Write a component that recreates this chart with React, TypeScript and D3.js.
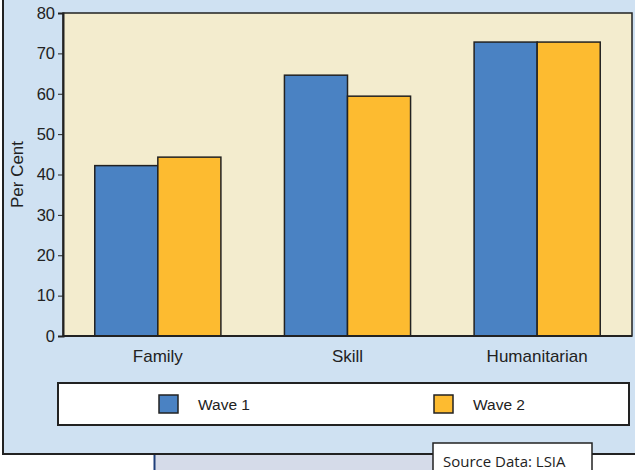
import React, { useEffect, useRef } from 'react';
import * as d3 from 'd3';

// Datos del gráfico
const categories = ['Family', 'Skill', 'Humanitarian'];
const seriesNames = ['Wave 1', 'Wave 2'];
const wave1 = [42.2, 64.6, 72.8];
const wave2 = [44.3, 59.4, 72.8];
const yTicks = [0, 10, 20, 30, 40, 50, 60, 70, 80];

const W = 635;
const H = 470;
const plot = { left: 63, top: 13, right: 632, bottom: 336 };
const colors = ['#4a82c3', '#fdbb30'];

const App = () => {
    const svgRef = useRef<SVGSVGElement | null>(null);

    useEffect(() => {
        const svg = d3.select(svgRef.current);
        svg.selectAll('*').remove();
        const font = '"Liberation Sans", Arial, sans-serif';

        // Fondo inferior y panel azul
        svg.append('rect').attr('x', 0).attr('y', 0).attr('width', W).attr('height', H).attr('fill', '#fff');
        svg.append('rect').attr('x', 155).attr('y', 454).attr('width', 278).attr('height', 20).attr('fill', '#d5dbe9');
        svg.append('line').attr('x1', 154.5).attr('x2', 154.5).attr('y1', 454).attr('y2', H)
            .attr('stroke', '#1f3f7a').attr('stroke-width', 2);
        svg.append('rect').attr('x', 3).attr('y', -5).attr('width', W + 10).attr('height', 459)
            .attr('fill', '#cfe1f2').attr('stroke', '#222').attr('stroke-width', 2);

        // Escalas
        const x0 = d3.scaleBand().domain(categories).range([plot.left, plot.right]).paddingInner(0.335).paddingOuter(0.1675);
        const x1 = d3.scaleBand().domain(seriesNames).range([0, x0.bandwidth()]).padding(0);
        const y = d3.scaleLinear().domain([0, 80]).range([plot.bottom, plot.top]);

        // Área del gráfico
        svg.append('rect').attr('x', plot.left).attr('y', plot.top)
            .attr('width', plot.right - plot.left).attr('height', plot.bottom - plot.top)
            .attr('fill', '#f3ecce').attr('stroke', '#222').attr('stroke-width', 1.5);

        // Barras
        const rows = categories.map((c, i) => ({ c, vals: [wave1[i], wave2[i]] }));
        const g = svg.append('g');
        rows.forEach(r => {
            r.vals.forEach((v, j) => {
                g.append('rect')
                    .attr('x', (x0(r.c) as number) + (x1(seriesNames[j]) as number))
                    .attr('y', y(v))
                    .attr('width', x1.bandwidth())
                    .attr('height', y(0) - y(v))
                    .attr('fill', colors[j])
                    .attr('stroke', '#222')
                    .attr('stroke-width', 1.5);
            });
        });

        // Eje Y
        const yAxis = svg.append('g').attr('transform', `translate(${plot.left},0)`)
            .call(d3.axisLeft(y).tickValues(yTicks).tickSize(5).tickPadding(3));
        yAxis.select('.domain').attr('stroke', '#222').attr('stroke-width', 2);
        yAxis.selectAll('.tick line').attr('stroke', '#222');
        yAxis.selectAll('text').style('font-family', font).style('font-size', '16.5px').attr('fill', '#222');

        // Línea base
        svg.append('line').attr('x1', plot.left).attr('x2', plot.right).attr('y1', plot.bottom).attr('y2', plot.bottom)
            .attr('stroke', '#222').attr('stroke-width', 2);

        // Etiquetas X
        svg.append('g').selectAll('text').data(categories).join('text')
            .attr('x', d => (x0(d) as number) + x0.bandwidth() / 2)
            .attr('y', 362)
            .attr('text-anchor', 'middle')
            .style('font-family', font).style('font-size', '17px').attr('fill', '#222')
            .text(d => d);

        // Título eje Y
        svg.append('text')
            .attr('transform', `translate(23,${(plot.top + plot.bottom) / 2}) rotate(-90)`)
            .attr('text-anchor', 'middle')
            .style('font-family', font).style('font-size', '17px').attr('fill', '#222')
            .text('Per Cent');

        // Leyenda
        svg.append('rect').attr('x', 58).attr('y', 383).attr('width', 571).attr('height', 42)
            .attr('fill', '#fff').attr('stroke', '#222').attr('stroke-width', 2);
        const legendX = [159, 434];
        seriesNames.forEach((s, i) => {
            svg.append('rect').attr('x', legendX[i]).attr('y', 395).attr('width', 19).attr('height', 18)
                .attr('fill', colors[i]).attr('stroke', '#222').attr('stroke-width', 1.5);
            svg.append('text').attr('x', legendX[i] + 39).attr('y', 410)
                .style('font-family', font).style('font-size', '15.5px').attr('fill', '#222')
                .text(s);
        });

        // Fuente
        svg.append('rect').attr('x', 433).attr('y', 443).attr('width', 159).attr('height', 40)
            .attr('fill', '#fff').attr('stroke', '#222').attr('stroke-width', 1.5);
        svg.append('text').attr('x', 443).attr('y', 467)
            .style('font-family', '"Open Sans", sans-serif').style('font-size', '15px').attr('fill', '#222')
            .text('Source Data: LSIA');
    }, []);

    return (
        <svg ref={svgRef} width={W} height={H} style={{ position: 'absolute', left: 0, top: 0 }}></svg>
    );
};

export default App;
